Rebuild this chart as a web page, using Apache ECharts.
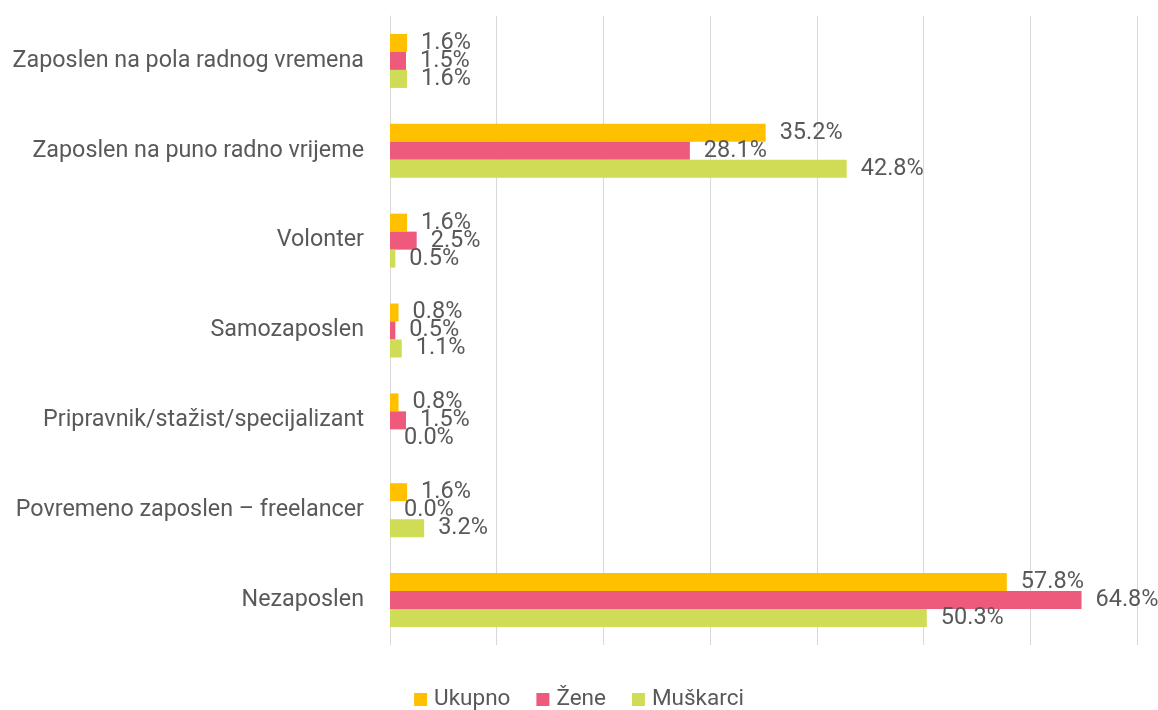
<!DOCTYPE html>
<html lang="hr">
<head>
    <meta charset="UTF-8">
    <title>Status zaposlenja</title>
    <script src="https://cdn.jsdelivr.net/npm/echarts@6.0.0/dist/echarts.min.js"></script>
    <style>
        html, body { margin: 0; padding: 0; background: #fff; }
    </style>
</head>
<body>
    <div id="chart" style="width: 1158px; height: 710px;"></div>
    <script>
        const categories = [
            'Zaposlen na pola radnog vremena',
            'Zaposlen na puno radno vrijeme',
            'Volonter',
            'Samozaposlen',
            'Pripravnik/stažist/specijalizant',
            'Povremeno zaposlen – freelancer',
            'Nezaposlen'
        ]
        const ukupno = [1.6, 35.2, 1.6, 0.8, 0.8, 1.6, 57.8]
        const zene = [1.5, 28.1, 2.5, 0.5, 1.5, 0.0, 64.8]
        const muskarci = [1.6, 42.8, 0.5, 1.1, 0.0, 3.2, 50.3]

        const chart = echarts.init(document.getElementById('chart'))

        const makeSeries = (name, data, color) => ({
            name: name,
            type: 'bar',
            data: data,
            barWidth: 18,
            barGap: '0%',
            itemStyle: { color: color },
            label: {
                show: true,
                position: 'right',
                distance: 14,
                color: '#595959',
                fontFamily: 'Roboto',
                fontSize: 23.5,
                formatter: (p) => p.value.toFixed(1) + '%'
            }
        })

        const option = {
            animation: false,
            grid: { left: 390, right: 21, top: 16, bottom: 65 },
            legend: {
                bottom: -6,
                left: 'center',
                itemWidth: 13,
                itemHeight: 13,
                itemGap: 26,
                icon: 'rect',
                textStyle: {
                    color: '#595959',
                    fontFamily: 'Roboto',
                    fontSize: 22.5,
                    padding: [0, 0, 0, 2]
                },
                data: ['Ukupno', 'Žene', 'Muškarci']
            },
            xAxis: {
                type: 'value',
                min: 0,
                max: 70,
                interval: 10,
                axisLabel: { show: false },
                axisLine: { show: false },
                axisTick: { show: false },
                splitLine: { lineStyle: { color: '#d9d9d9', width: 1 } }
            },
            yAxis: {
                type: 'category',
                inverse: true,
                data: categories,
                axisLine: { lineStyle: { color: '#d9d9d9' } },
                axisTick: { show: false },
                axisLabel: {
                    color: '#595959',
                    fontFamily: 'Roboto',
                    fontSize: 23.3,
                    margin: 26
                }
            },
            series: [
                makeSeries('Ukupno', ukupno, '#FFC000'),
                makeSeries('Žene', zene, '#EE5A7C'),
                makeSeries('Muškarci', muskarci, '#CFDC55')
            ]
        }

        chart.setOption(option)
    </script>
</body>
</html>
